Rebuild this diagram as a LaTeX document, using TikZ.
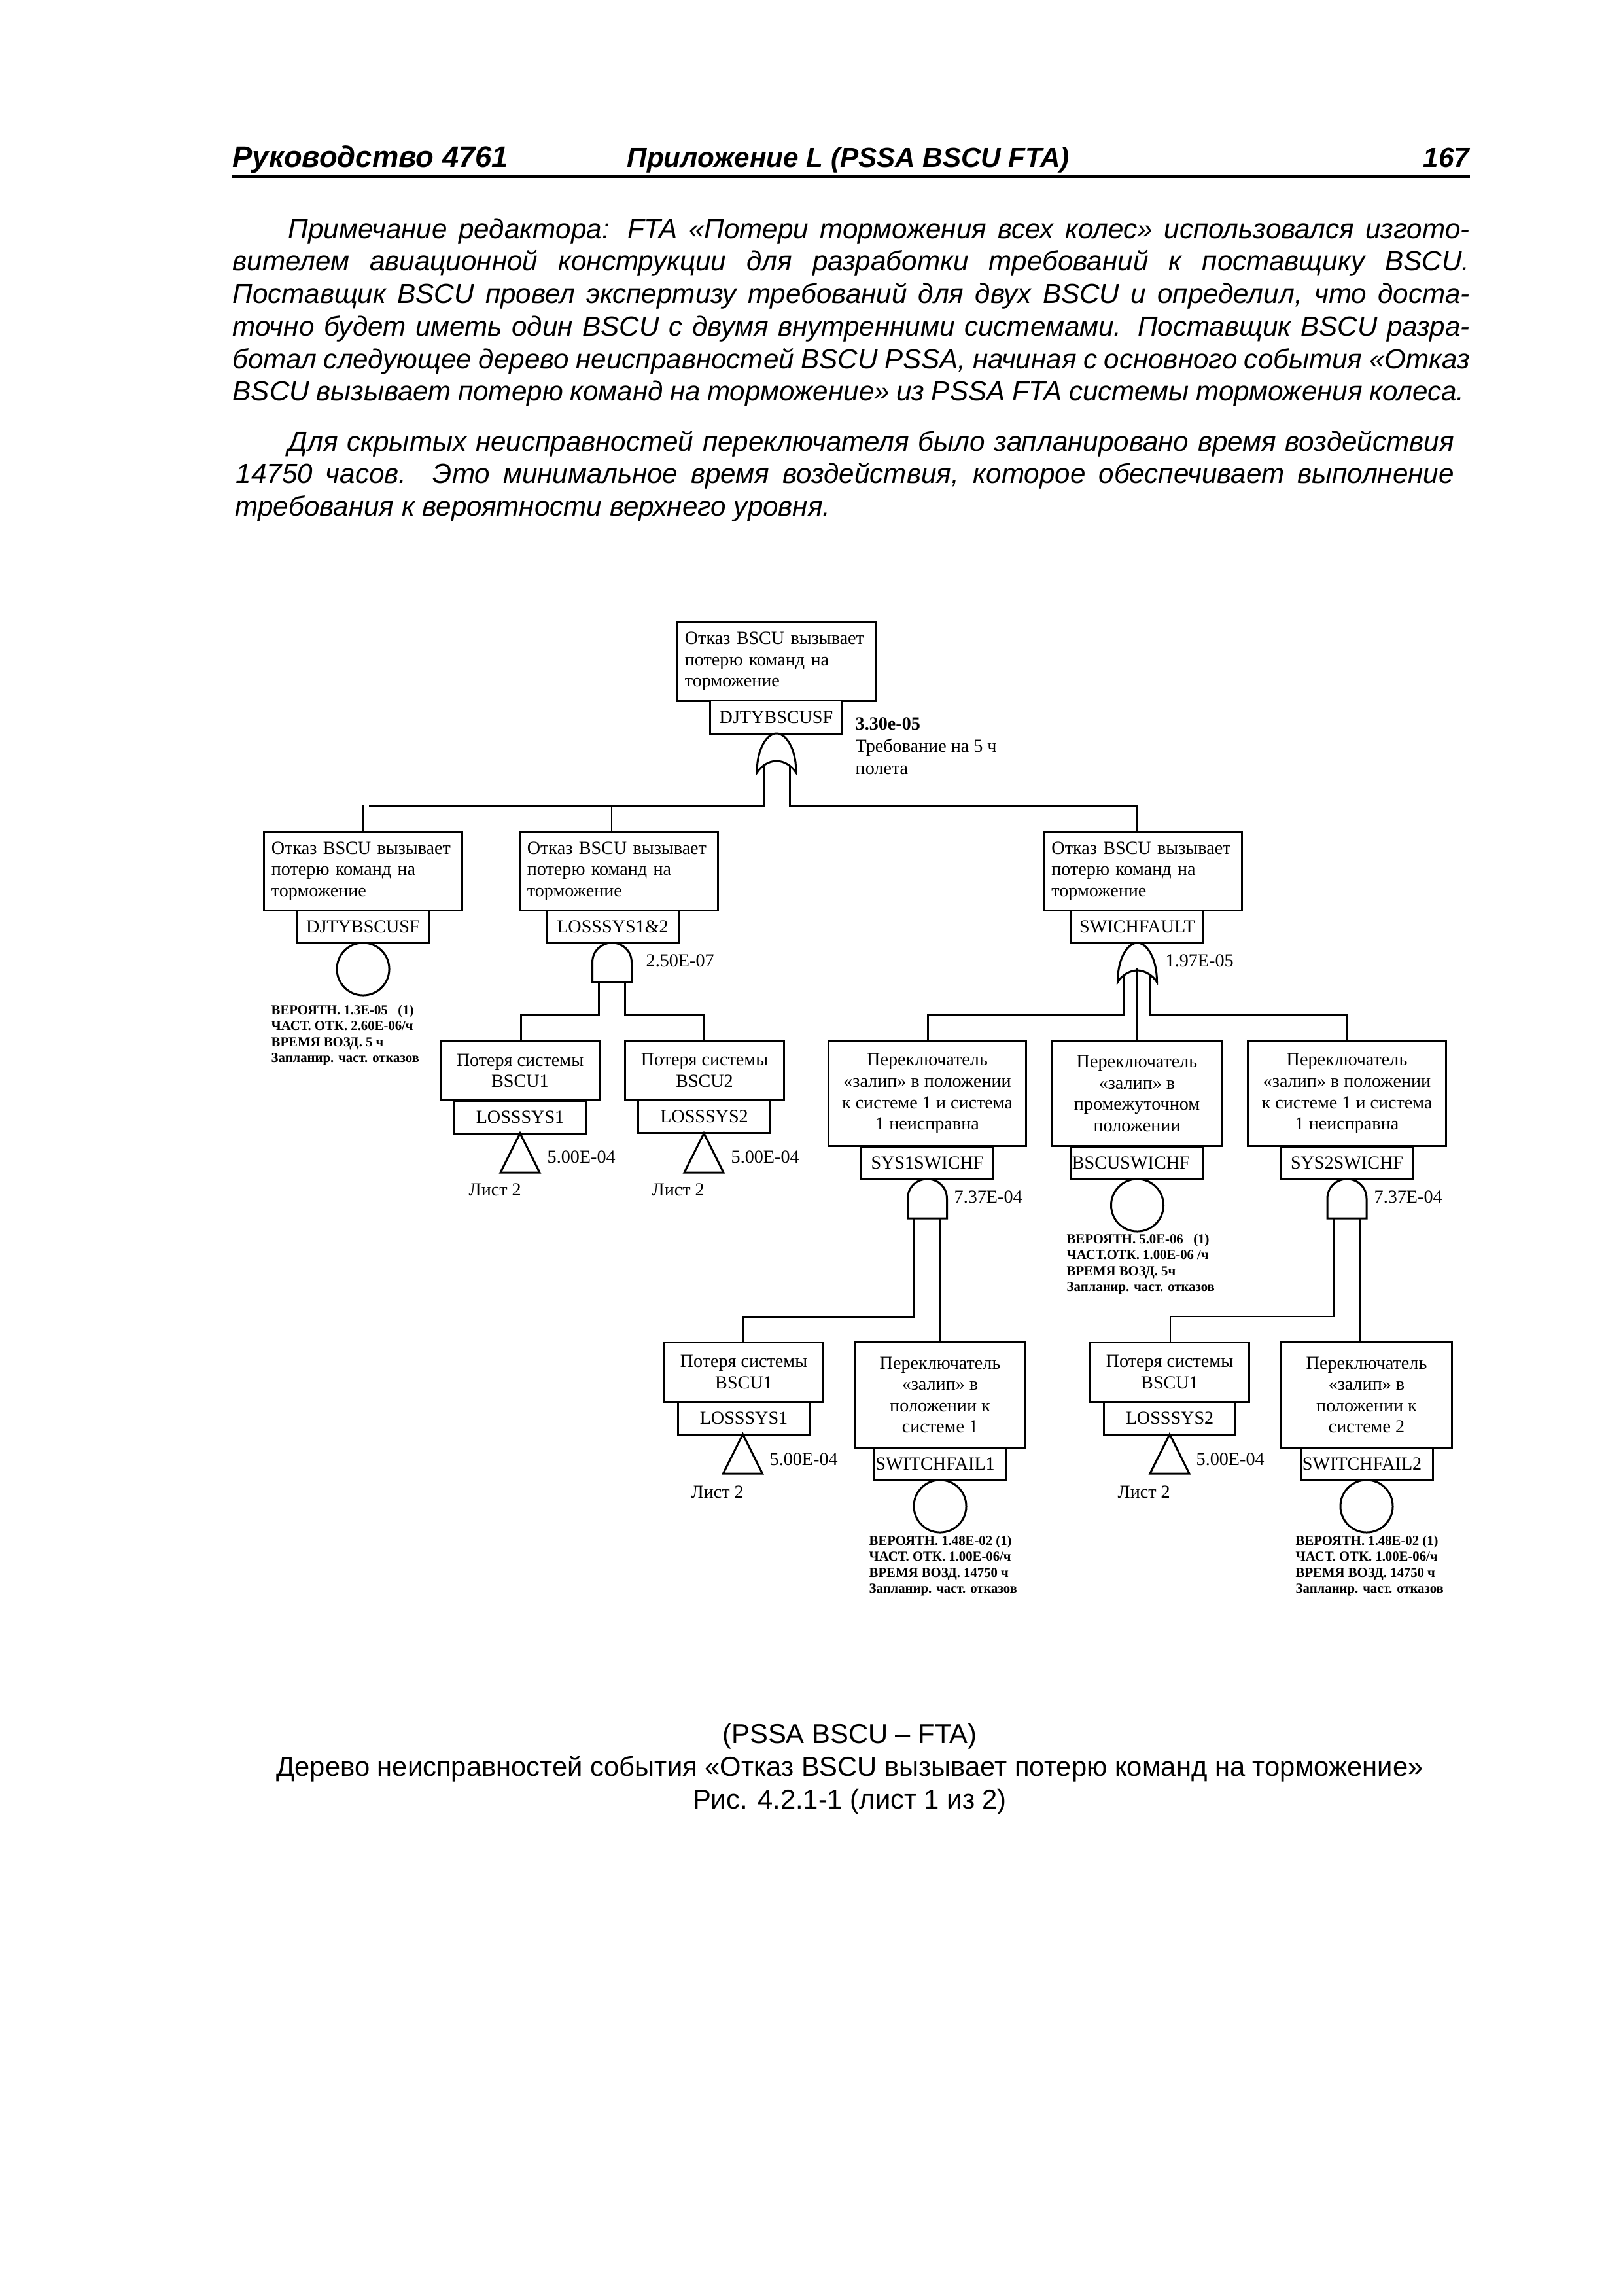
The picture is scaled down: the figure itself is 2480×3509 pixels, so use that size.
\documentclass[tikz,border=0pt]{standalone}
\usepackage{fontspec}
\usepackage{tikz}
\setmainfont{Liberation Serif}
\newfontfamily\pagefont{Liberation Sans}

\newcommand{\jline}[2]{\makebox[#1cm][s]{#2}}

\tikzset{
  orgate/.pic={
    \draw[line width=0.85pt,fill=white] (0,0) .. controls (-14,0) and (-30,22) .. (-30,60)
      .. controls (-24,50) and (-12,42) .. (0,42) .. controls (12,42) and (24,50) .. (30,60)
      .. controls (30,22) and (14,0) .. (0,0) -- cycle;
    \coordinate (-l) at (-20,49);
    \coordinate (-m) at (0,39);
    \coordinate (-r) at (20,49);
  },
  andgate/.pic={
    \draw[line width=0.85pt,fill=white] (-30,60) -- (-30,30) .. controls (-30,12) and (-16,0) .. (0,0)
      .. controls (16,0) and (30,12) .. (30,30) -- (30,60) -- cycle;
    \coordinate (-l) at (-20,60);
    \coordinate (-r) at (20,60);
  },
  transfer/.pic={
    \draw[line width=0.85pt] (0,0) -- (-30,60) -- (30,60) -- cycle;
  }
}

\begin{document}
\begin{tikzpicture}[x=0.01cm,y=-0.01cm,
    lab/.style={font=\fontsize{8}{9.25}\selectfont,inner sep=0pt},
    bx/.style={lab,draw,line width=0.85pt,fill=white,outer sep=0pt},
    evbox/.style={bx,text width=2.8cm,inner xsep=0.11cm,minimum height=1.2cm,align=left},
    lossbox/.style={bx,minimum width=2.42cm,minimum height=0.9cm,align=center},
    swbox/.style={bx,minimum width=3.02cm,minimum height=1.6cm,align=center},
    stuckbox/.style={bx,minimum width=2.6cm,minimum height=1.6cm,align=center},
    idbox/.style={bx,minimum width=2.01cm,minimum height=0.5cm},
    idleft/.style={text width=1.98cm,align=left},
    basic/.style={draw,circle,line width=0.85pt,minimum size=0.8cm,inner sep=0pt,outer sep=0pt},
    prob/.style={lab,anchor=west},
    sheet/.style={lab,anchor=west},
    note/.style={font=\fontsize{5.9}{7}\selectfont\bfseries,inner sep=0pt,anchor=north west,align=left},
    thickwire/.style={line width=0.85pt},
    thinwire/.style={line width=0.6pt},
    pline/.style={inner sep=0pt,anchor=base west,font=\pagefont\itshape\fontsize{12}{14}\selectfont},
    headtxt/.style={inner sep=0pt,anchor=base west,font=\pagefont\bfseries\itshape\fontsize{12}{14}\selectfont},
    captxt/.style={inner sep=0pt,anchor=base,font=\pagefont\fontsize{11.87}{14}\selectfont}]
    \useasboundingbox (0,0) rectangle (2480,3509);

    % running head
    \node[headtxt,font=\pagefont\bfseries\itshape\fontsize{12.9}{14}\selectfont] (hd1) at (355,255) {Руководство 4761};
    \node[headtxt] (hd2) at (958,255) {Приложение L (PSSA BSCU FTA)};
    \node[headtxt,anchor=base east] (hd3) at (2247,255) {167};
    \coordinate (rulel) at (355,270);
    \coordinate (ruler) at (2247,270);
    \draw[line width=1.4pt] (rulel) -- (ruler);

    % text above the tree
    \node[pline] (p1) at (440,364) {\jline{18.05}{Примечание редактора: FTA «Потери торможения всех колес» использовался изгото-}};
    \node[pline] (p2) at (355,413) {\jline{18.90}{вителем авиационной конструкции для разработки требований к поставщику BSCU.}};
    \node[pline] (p3) at (355,463) {\jline{18.90}{Поставщик BSCU провел экспертизу требований для двух BSCU и определил, что доста-}};
    \node[pline] (p4) at (355,513) {\jline{18.90}{точно будет иметь один BSCU с двумя внутренними системами. Поставщик BSCU разра-}};
    \node[pline] (p5) at (355,563) {\jline{18.90}{ботал следующее дерево неисправностей BSCU PSSA, начиная с основного события «Отказ}};
    \node[pline] (p6) at (355,612) {\jline{18.82}{BSCU вызывает потерю команд на торможение» из PSSA FTA системы торможения колеса.}};
    \node[pline] (q1) at (440,689) {\jline{17.81}{Для скрытых неисправностей переключателя было запланировано время воздействия}};
    \node[pline] (q2) at (360,738) {\jline{18.61}{14750 часов. Это минимальное время воздействия, которое обеспечивает выполнение}};
    \node[pline] (q3) at (359,788) {требования к вероятности верхнего уровня.};

    % top event
    \node[evbox] (top) at (1187,1011) {Отказ BSCU вызывает\\потерю команд на\\торможение};
    \node[idbox] (topid) at (1186.5,1096) {DJTYBSCUSF};
    \pic (g0) at (1187,1121) {orgate};
    \node[lab,anchor=north west,align=left,font=\fontsize{8}{9.7}\selectfont] (topval) at (1307,1096) {\textbf{3.30e-05}\\Требование на 5 ч\\полета};

    % second row
    \node[evbox] (ev1) at (555,1331.5) {Отказ BSCU вызывает\\потерю команд на\\торможение};
    \node[idbox] (ev1id) at (555,1416) {DJTYBSCUSF};
    \node[basic] (ev1c) at (555,1481) {};
    \node[note] (ev1n) at (414,1535) {ВЕРОЯТН. 1.3E-05\ \ \ (1)\\ЧАСТ. ОТК. 2.60E-06/ч\\ВРЕМЯ ВОЗД. 5 ч\\Запланир. част. отказов};

    \node[evbox] (ev2) at (946,1331.5) {Отказ BSCU вызывает\\потерю команд на\\торможение};
    \node[idbox] (ev2id) at (936.5,1416) {LOSSSYS1\&2};
    \pic (g1) at (935.5,1441) {andgate};
    \node[prob] (ev2v) at (987,1468) {2.50E-07};

    \node[evbox] (ev3) at (1747.5,1331.5) {Отказ BSCU вызывает\\потерю команд на\\торможение};
    \node[idbox] (ev3id) at (1738.5,1416) {SWICHFAULT};
    \pic (g2) at (1738.5,1441) {orgate};
    \node[prob] (ev3v) at (1781,1468) {1.97E-05};

    % loss of either system
    \node[lossbox] (ls1) at (795,1636.5) {Потеря системы\\BSCU1};
    \node[idbox] (ls1id) at (795,1707) {LOSSSYS1};
    \pic (t1) at (795,1732) {transfer};
    \node[prob] (ls1v) at (836,1768) {5.00E-04};
    \node[sheet] (ls1s) at (716,1818) {Лист 2};

    \node[lossbox] (ls2) at (1077,1636) {Потеря системы\\BSCU2};
    \node[idbox] (ls2id) at (1076.5,1706) {LOSSSYS2};
    \pic (t2) at (1076,1732) {transfer};
    \node[prob] (ls2v) at (1117,1768) {5.00E-04};
    \node[sheet] (ls2s) at (996,1818) {Лист 2};

    % switch faults
    \node[swbox] (sw1) at (1417.5,1671.5) {Переключатель\\«залип» в положении\\к системе 1 и система\\1 неисправна};
    \node[idbox] (sw1id) at (1417.5,1777) {SYS1SWICHF};
    \pic (g3) at (1417.5,1802) {andgate};
    \node[prob] (sw1v) at (1458,1829) {7.37E-04};

    \node[stuckbox] (swm) at (1738,1671.5) {Переключатель\\«залип» в\\промежуточном\\положении};
    \node[idbox,idleft] (swmid) at (1738,1777) {BSCUSWICHF};
    \node[basic] (swmc) at (1738.5,1842) {};
    \node[note] (swmn) at (1630,1885) {ВЕРОЯТН. 5.0E-06\ \ \ (1)\\ЧАСТ.ОТК. 1.00E-06 /ч\\ВРЕМЯ ВОЗД. 5ч\\Запланир. част. отказов};

    \node[swbox] (sw2) at (2059,1671.5) {Переключатель\\«залип» в положении\\к системе 1 и система\\1 неисправна};
    \node[idbox] (sw2id) at (2059,1777) {SYS2SWICHF};
    \pic (g4) at (2059,1802) {andgate};
    \node[prob] (sw2v) at (2100,1829) {7.37E-04};

    % bottom row
    \node[lossbox] (ls3) at (1137,2097) {Потеря системы\\BSCU1};
    \node[idbox] (ls3id) at (1137,2167) {LOSSSYS1};
    \pic (t3) at (1135.5,2192) {transfer};
    \node[prob] (ls3v) at (1176,2230) {5.00E-04};
    \node[sheet] (ls3s) at (1056,2280) {Лист 2};

    \node[stuckbox] (st1) at (1437,2132) {Переключатель\\«залип» в\\положении к\\системе 1};
    \node[idbox,idleft] (st1id) at (1437.5,2237) {SWITCHFAIL1};
    \node[basic] (st1c) at (1437,2302) {};
    \node[note] (st1n) at (1328,2346) {ВЕРОЯТН. 1.48E-02 (1)\\ЧАСТ. ОТК. 1.00E-06/ч\\ВРЕМЯ ВОЗД. 14750 ч\\Запланир. част. отказов};

    \node[lossbox] (ls4) at (1788,2097) {Потеря системы\\BSCU1};
    \node[idbox] (ls4id) at (1788,2167) {LOSSSYS2};
    \pic (t4) at (1788,2192) {transfer};
    \node[prob] (ls4v) at (1828,2230) {5.00E-04};
    \node[sheet] (ls4s) at (1708,2280) {Лист 2};

    \node[stuckbox] (st2) at (2089,2132) {Переключатель\\«залип» в\\положении к\\системе 2};
    \node[idbox,idleft] (st2id) at (2090,2237) {SWITCHFAIL2};
    \node[basic] (st2c) at (2089,2302) {};
    \node[note] (st2n) at (1980,2346) {ВЕРОЯТН. 1.48E-02 (1)\\ЧАСТ. ОТК. 1.00E-06/ч\\ВРЕМЯ ВОЗД. 14750 ч\\Запланир. част. отказов};

    % where the wires come into the boxes
    \coordinate (bus0l) at (564,1232);
    \coordinate (in1t) at (555,1230);
    \coordinate (in1) at (555,1272);
    \coordinate (in2t) at (935,1232);
    \coordinate (in2) at (935,1272);
    \coordinate (in3) at (1738.5,1272);
    \coordinate (ina) at (796,1591);
    \coordinate (inb) at (1075,1591);
    \coordinate (inc) at (1418,1591);
    \coordinate (ind) at (1738.5,1591);
    \coordinate (ine) at (2059,1591);
    \coordinate (inf) at (1136,2052);
    \coordinate (ing) at (1437.5,2052);
    \coordinate (inh) at (1789,2052);
    \coordinate (ini) at (2079,2052);

    \draw[thickwire] (g0-l) -- ++(0,62) -- (bus0l);
    \draw[thickwire] (g0-r) -- ++(0,62) -| (in3);
    \draw[thickwire] (in1t) -- (in1);
    \draw[thinwire] (in2t) -- (in2);

    \draw[thickwire] (g1-l) -- ++(0,50) -| (ina);
    \draw[thickwire] (g1-r) -- ++(0,50) -| (inb);

    \draw[thickwire] (g2-l) -- ++(0,61) -| (inc);
    \draw[thinwire] (g2-m) -- (ind);
    \draw[thickwire] (g2-r) -- ++(0,61) -| (ine);

    \draw[thickwire] (g3-l) -- ++(0,151) -| (inf);
    \draw[thinwire] (g3-r) -- (ing);

    \draw[thinwire] (g4-l) -- ++(0,150) -| (inh);
    \draw[thinwire] (g4-r) -- (ini);

    % caption
    \node[captxt] (cap1) at (1299,2664) {(PSSA BSCU – FTA)};
    \node[captxt] (cap2) at (1299,2714) {Дерево неисправностей события «Отказ BSCU вызывает потерю команд на торможение»};
    \node[captxt] (cap3) at (1299,2764) {Рис. 4.2.1-1 (лист 1 из 2)};
\end{tikzpicture}
\end{document}
